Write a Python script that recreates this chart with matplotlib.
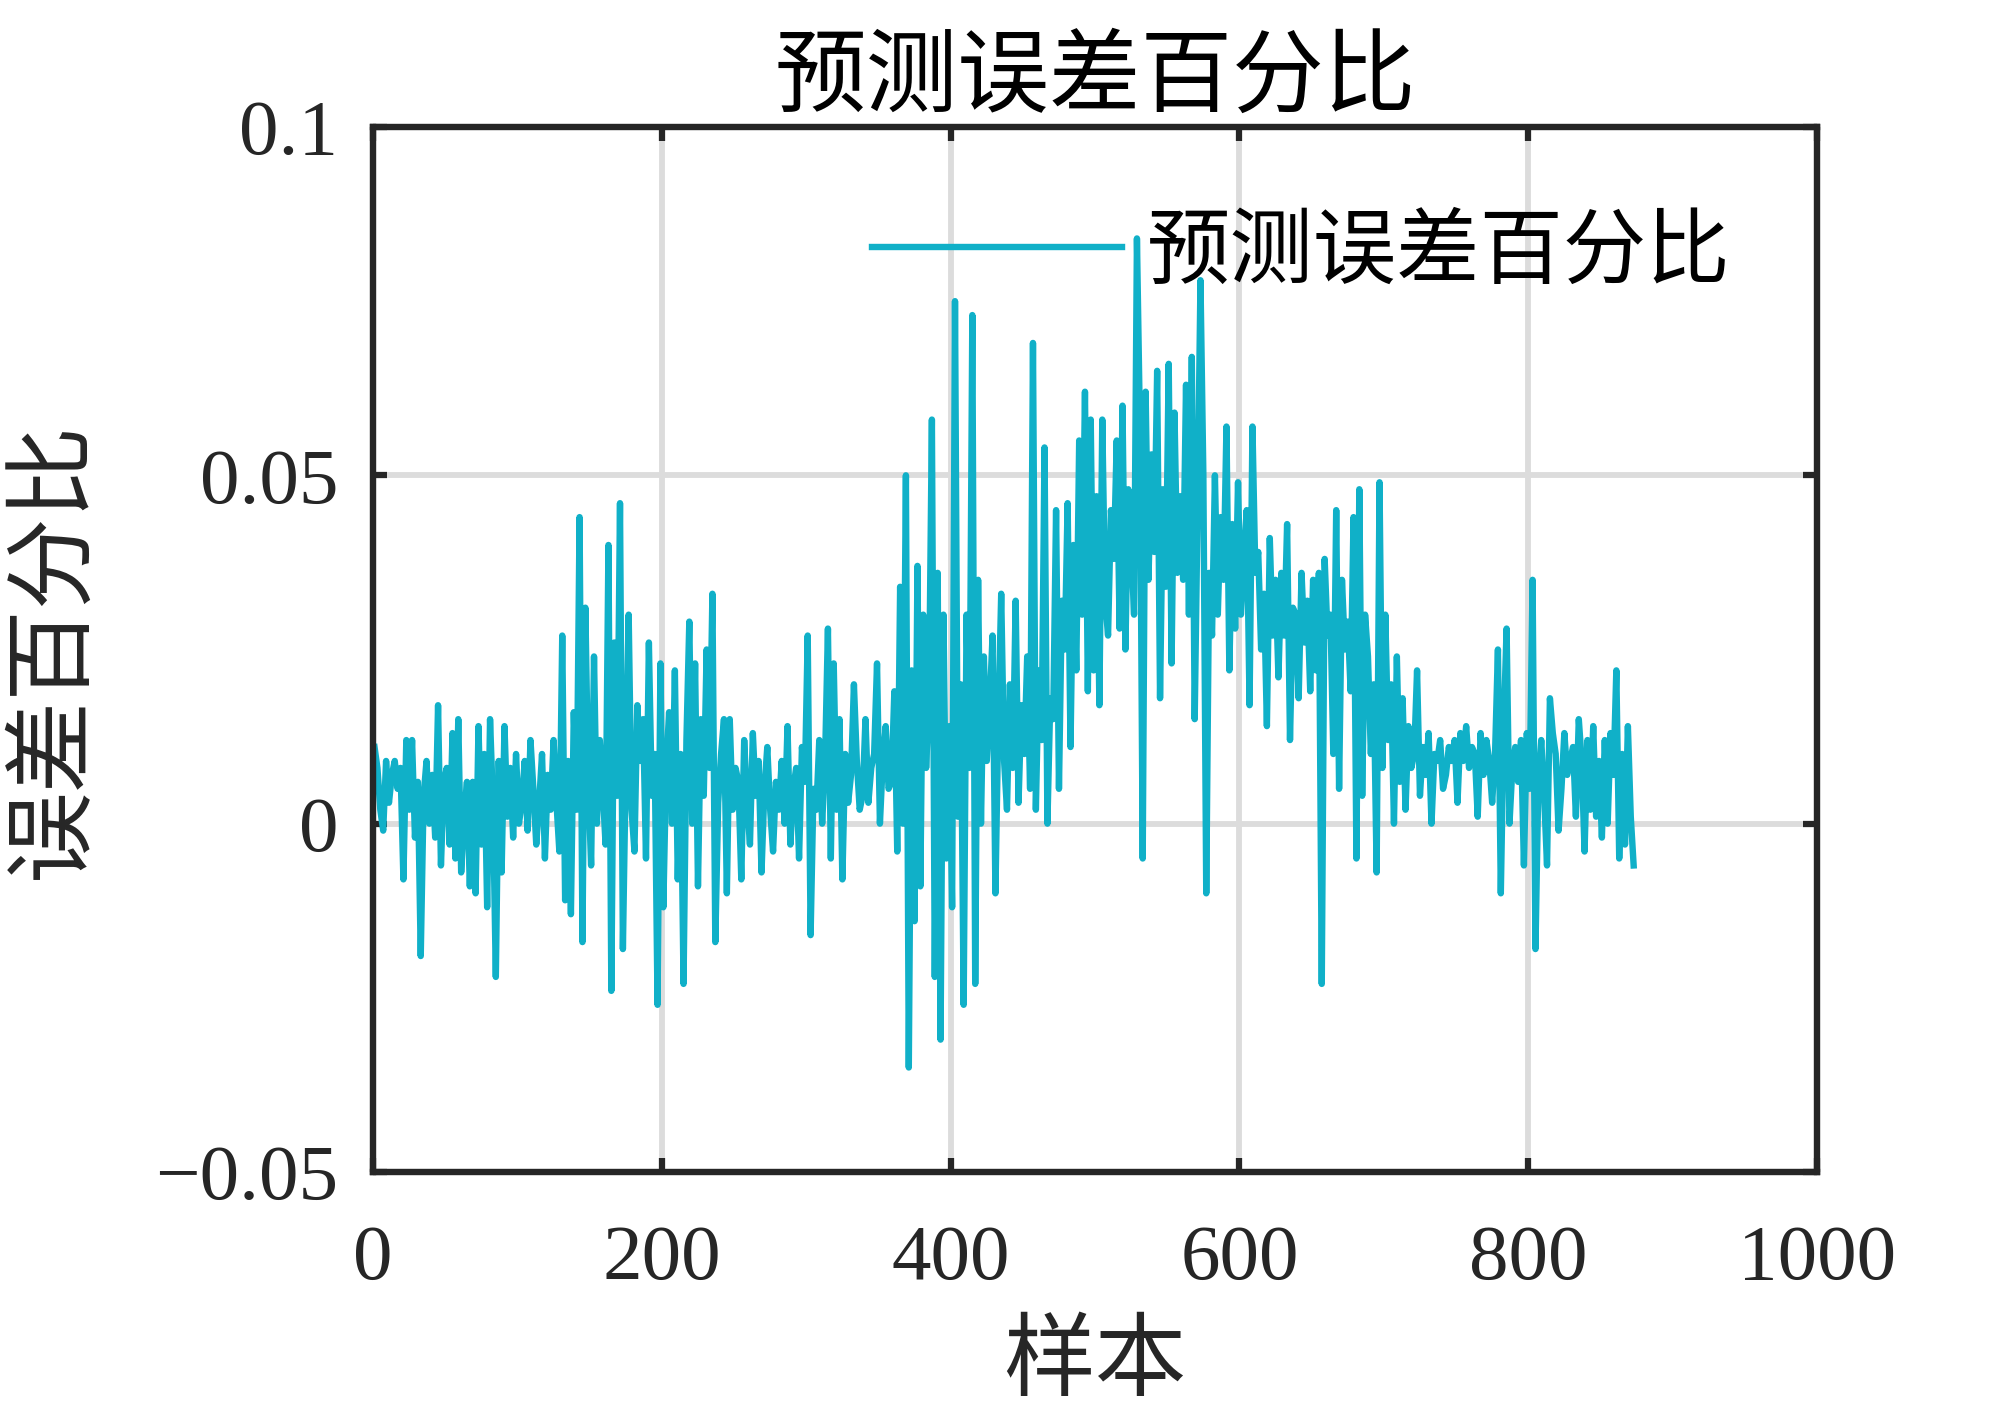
import matplotlib
matplotlib.use("Agg")
import matplotlib.pyplot as plt
import numpy as np

# error values, in units of 0.001, read every 2nd sample (x = 1, 3, 5, ...)
err_1_49 = [11, 8, 2, -1, 9, 3, 7, 9, 5, 8, -8, 12, 2, 12, -2, 6, -19, 4, 9, 0, 7, -2, 17, -6, 6]
err_51_99 = [8, -3, 13, -5, 15, -7, 1, 6, -9, 6, -10, 14, -3, 10, -12, 15, 3, -22, 9, -7, 14, 1, 8, -2, 10]
err_101_149 = [0, 3, 9, -1, 12, 5, -3, 3, 10, -5, 7, 2, 12, 3, -4, 27, -11, 9, -13, 16, 2, 44, -17, 31, 6]
err_151_199 = [-6, 24, 0, 12, 5, -3, 40, -24, 26, 4, 46, -18, 8, 30, 2, -4, 17, 9, 15, -5, 26, 4, 10, -26, 23]
err_201_249 = [-12, 8, 16, 0, 22, -8, 10, -23, 12, 29, 0, 23, -9, 15, 4, 25, 8, 33, -17, 3, 10, 15, -10, 15, 2]
err_251_299 = [8, 6, -8, 12, 3, -3, 13, 4, 9, -7, 5, 11, 2, -4, 6, 2, 9, 0, 14, -3, 5, 8, -5, 11, 6]
err_301_349 = [27, -16, 5, 2, 12, 0, 9, 28, -5, 23, 2, 15, -8, 10, 3, 7, 20, 9, 2, 4, 15, 3, 8, 10, 23]
err_351_399 = [0, 9, 14, 5, 6, 19, -4, 34, 0, 50, -35, 22, -14, 37, -9, 30, 8, 18, 58, -22, 36, -31, 30, -5, 14]
err_401_449 = [-12, 75, 1, 20, -26, 30, 8, 73, -23, 35, 0, 24, 9, 17, 27, -10, 15, 33, 9, 2, 20, 8, 32, 3, 17]
err_451_499 = [10, 24, 5, 69, 2, 22, 12, 54, 0, 18, 15, 45, 5, 32, 25, 46, 11, 40, 22, 55, 30, 62, 19, 58, 22]
err_501_549 = [47, 17, 58, 32, 27, 45, 38, 55, 28, 60, 25, 48, 40, 30, 84, 58, -5, 62, 35, 53, 39, 65, 18, 48, 34]
err_551_599 = [66, 23, 59, 36, 47, 35, 63, 30, 67, 15, 45, 78, 50, -10, 36, 27, 50, 30, 44, 35, 57, 22, 43, 28, 49]
err_601_649 = [30, 38, 45, 17, 57, 36, 39, 25, 33, 14, 41, 27, 35, 21, 36, 27, 43, 12, 31, 30, 18, 36, 26, 32, 19]
err_651_699 = [35, 22, 36, -23, 38, 27, 30, 10, 45, 5, 35, 25, 29, 19, 44, -5, 48, 4, 30, 24, 10, 20, -7, 49, 8]
err_701_749 = [30, 12, 20, 0, 24, 6, 18, 2, 14, 8, 10, 22, 4, 11, 7, 13, 0, 10, 9, 12, 5, 7, 11, 9, 12]
err_751_799 = [3, 13, 9, 14, 8, 11, 10, 1, 13, 7, 12, 9, 3, 10, 25, -10, 14, 28, 0, 8, 11, 6, 12, -6, 13]
err_801_849 = [5, 35, -18, 6, 12, 4, -6, 18, 13, 10, -1, 5, 13, 7, 9, 11, 1, 15, 9, -4, 12, 2, 14, 1, 9]
err_851_873 = [-2, 12, 0, 13, 7, 22, -5, 10, -3, 14, 1, -6]

x_ticks = [0, 200, 400, 600, 800, 1000]
y_ticks = [-0.05, 0, 0.05, 0.1]
y_tick_labels = ["\u22120.05", "0", "0.05", "0.1"]

title = "预测误差百分比"
x_label = "样本"
y_label = "误差百分比"
legend_label = "预测误差百分比"

err = np.array(err_1_49 + err_51_99 + err_101_149 + err_151_199 + err_201_249
               + err_251_299 + err_301_349 + err_351_399 + err_401_449 + err_451_499
               + err_501_549 + err_551_599 + err_601_649 + err_651_699 + err_701_749
               + err_751_799 + err_801_849 + err_851_873) / 1000.0
samples = np.arange(1, 2 * len(err), 2)

cjk = ["Noto Sans CJK SC", "DejaVu Sans"]
num_font = ["Liberation Serif", "DejaVu Serif"]
dark = "#262626"

fig = plt.figure(figsize=(20.08, 14.17), dpi=100)
ax = fig.add_axes([0.1858, 0.1729, 0.7191, 0.7375])

ax.plot(samples, err, color="#10B0C8", lw=4.6, label=legend_label, solid_joinstyle="round")

ax.set_xlim(0, 1000)
ax.set_ylim(-0.05, 0.1)
ax.set_xticks(x_ticks)
ax.set_yticks(y_ticks)
ax.set_xticklabels([str(t) for t in x_ticks], fontfamily=num_font, fontsize=57, color=dark)
ax.set_yticklabels(y_tick_labels, fontfamily=num_font, fontsize=57, color=dark)
ax.tick_params(direction="in", length=10, width=4.5, top=True, right=True, color=dark)
ax.tick_params(axis="x", pad=38)
ax.tick_params(axis="y", pad=25)

ax.grid(True, color="#DCDCDC", lw=4.2)
ax.set_axisbelow(True)
for s in ax.spines.values():
    s.set_linewidth(4.6)
    s.set_color(dark)

ax.set_title(title, fontfamily=cjk, fontsize=66, color="black", pad=16)
ax.set_xlabel(x_label, fontfamily=cjk, fontsize=66, color=dark, labelpad=14)
ax.set_ylabel(y_label, fontfamily=cjk, fontsize=66, color=dark, labelpad=40)

ax.legend(loc="center right", bbox_to_anchor=(0.94, 0.88), frameon=False,
          handlelength=3.0, handletextpad=0.3, borderpad=0, borderaxespad=0,
          prop={"family": cjk, "size": 60})

fig.savefig("out.png", dpi=100)
